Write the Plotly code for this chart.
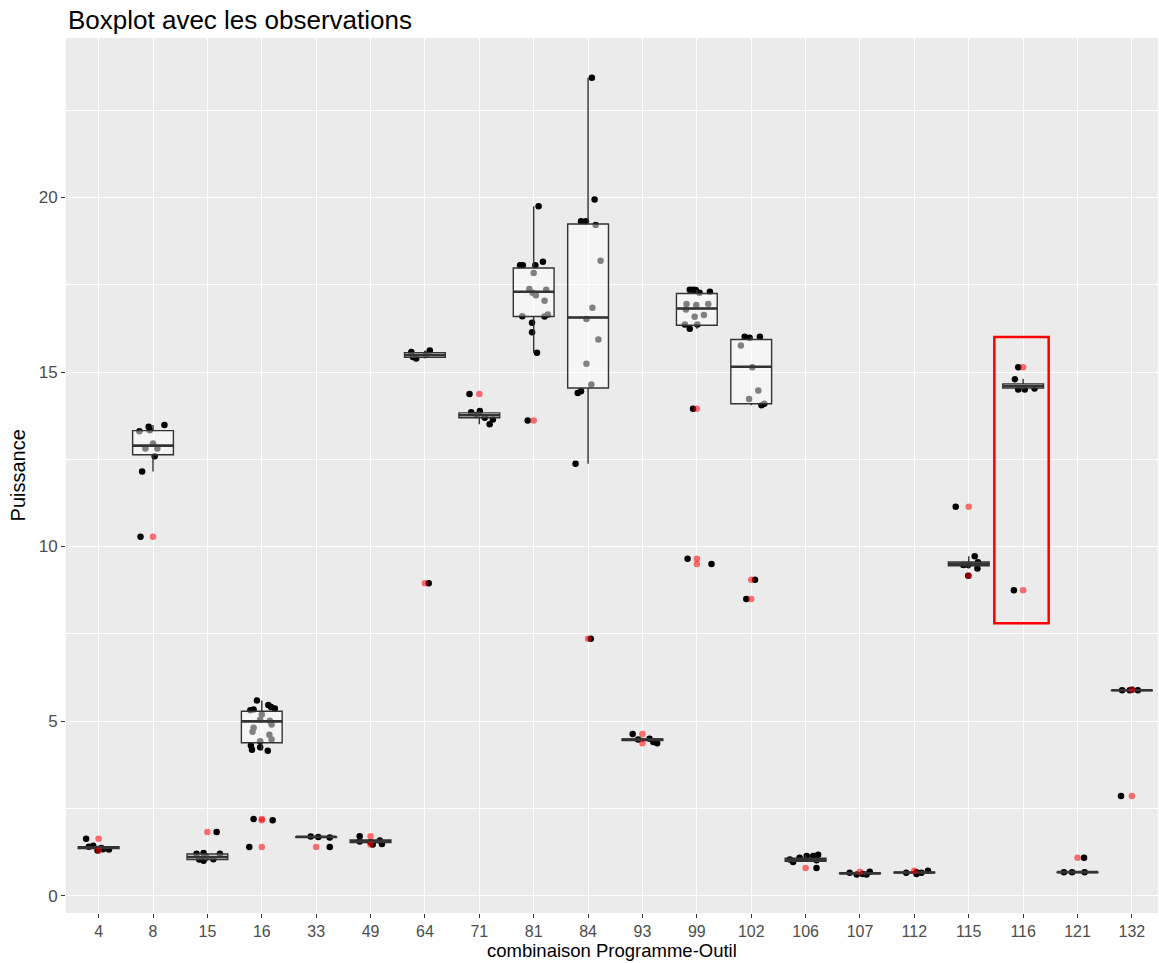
import plotly.graph_objects as go

# Programme-outil combinations (x categories)
categories = ["4", "8", "15", "16", "33", "49", "64", "71", "81", "84",
              "93", "99", "102", "106", "107", "112", "115", "116", "121", "132"]

# Observed power per combination
obs_values = [
    [1.63, 1.40, 1.43, 1.29, 1.33, 1.32, 1.36],
    [13.43, 13.48, 13.30, 13.33, 12.95, 12.81, 12.81, 12.59, 12.15, 10.28],
    [1.82, 1.20, 1.22, 1.20, 1.00, 1.04, 1.10, 1.03],
    [5.59, 5.31, 5.33, 5.46, 5.40, 5.36, 5.19, 5.01, 4.81, 4.69, 4.90, 4.61,
     4.42, 4.47, 5.04, 4.30, 4.18, 4.25, 4.15, 2.19, 2.16, 1.39],
    [1.69, 1.66, 1.68, 1.39],
    [1.70, 1.46, 1.48, 1.58, 1.55, 1.53],
    [15.57, 15.62, 15.43, 15.39, 15.50, 8.95],
    [14.37, 13.85, 13.88, 13.69, 13.64, 13.50, 13.77],
    [19.75, 18.06, 18.06, 18.06, 18.16, 17.84, 17.38, 17.27, 17.20, 17.04,
     17.36, 16.60, 16.59, 16.65, 16.41, 16.14, 15.55, 13.61],
    [23.43, 19.94, 19.32, 19.32, 19.21, 18.19, 16.84, 16.52, 15.93, 15.24,
     14.64, 14.40, 14.45, 12.37, 7.36],
    [4.63, 4.49, 4.36, 4.40, 4.47],
    [17.36, 17.35, 17.36, 17.30, 17.27, 16.95, 16.79, 16.92, 16.95, 16.58,
     16.63, 16.36, 16.36, 16.24, 13.95, 9.65, 9.50],
    [16.01, 15.98, 16.01, 15.76, 15.14, 14.47, 14.23, 14.05, 14.09, 9.05, 8.50],
    [1.17, 1.13, 1.13, 0.96, 1.03, 1.08, 1.01, 0.79],
    [0.65, 0.60, 0.60, 0.68, 0.62],
    [0.65, 0.62, 0.65, 0.71, 0.67],
    [11.14, 9.72, 9.37, 9.47, 9.47, 9.16, 9.55],
    [14.79, 15.14, 14.50, 14.50, 14.53, 8.75],
    [0.67, 0.67, 0.67, 1.08],
    [5.88, 5.88, 5.88, 5.90, 2.85],
]

# Horizontal jitter of each observation (category units)
obs_jitter = [
    [-0.23, -0.18, -0.10, -0.02, 0.08, 0.19, 0.05],
    [-0.08, 0.21, -0.25, -0.06, 0.00, -0.14, 0.08, 0.03, -0.20, -0.23],
    [0.17, -0.20, -0.07, 0.23, -0.07, 0.11, -0.02, -0.15],
    [-0.09, -0.21, -0.15, 0.12, 0.17, 0.24, 0.00, 0.15, -0.15, -0.17, 0.18, 0.14,
     -0.03, 0.18, -0.03, -0.20, -0.18, -0.03, 0.11, -0.15, 0.20, -0.23],
    [-0.10, 0.25, 0.04, 0.25],
    [-0.20, 0.04, 0.21, 0.17, -0.20, 0.00],
    [-0.25, 0.09, -0.22, -0.16, 0.02, 0.07],
    [-0.18, -0.15, 0.01, 0.10, 0.25, 0.19, -0.05],
    [0.09, -0.20, -0.25, 0.03, 0.17, 0.00, -0.08, -0.02, 0.04, 0.20,
     0.23, -0.21, 0.20, 0.26, -0.03, -0.03, 0.06, -0.11],
    [0.07, 0.12, -0.13, -0.04, 0.14, 0.23, 0.08, -0.03, 0.19, -0.03,
     0.06, -0.19, -0.13, -0.23, 0.05],
    [-0.18, 0.13, 0.27, 0.20, -0.08],
    [-0.07, -0.02, -0.13, 0.24, 0.05, -0.19, -0.20, -0.01, 0.21, -0.04,
     0.13, -0.22, 0.01, -0.13, -0.07, -0.17, 0.27],
    [-0.12, -0.03, 0.16, -0.19, 0.02, 0.13, -0.04, 0.19, 0.24, 0.07, -0.09],
    [0.23, 0.14, 0.02, -0.23, -0.29, -0.11, 0.20, 0.20],
    [-0.19, -0.06, 0.12, 0.18, 0.05],
    [-0.15, 0.04, 0.13, 0.25, 0.04],
    [-0.24, 0.11, 0.16, -0.10, -0.01, -0.01, 0.17],
    [-0.15, -0.09, -0.09, 0.03, 0.21, -0.17],
    [-0.25, -0.10, 0.13, 0.12],
    [-0.18, -0.04, 0.11, 0.00, -0.20],
]

# Box statistics per combination
box_q1 = [1.35, 12.63, 1.03, 4.38, 1.67, 1.52, 15.42, 13.69, 16.59, 14.54,
          4.44, 16.34, 14.09, 0.98, 0.62, 0.65, 9.45, 14.54, 0.66, 5.87]
box_median = [1.37, 12.89, 1.10, 4.99, 1.68, 1.55, 15.48, 13.76, 17.30, 16.56,
              4.47, 16.82, 15.15, 1.03, 0.64, 0.66, 9.51, 14.60, 0.67, 5.88]
box_q3 = [1.40, 13.32, 1.19, 5.28, 1.68, 1.59, 15.55, 13.83, 17.98, 19.24,
          4.49, 17.25, 15.93, 1.07, 0.65, 0.67, 9.56, 14.66, 0.67, 5.88]
box_low = [1.32, 12.15, 1.00, 4.15, 1.66, 1.48, 15.39, 13.50, 15.55, 12.37,
           4.40, 16.24, 14.05, 0.96, 0.60, 0.62, 9.37, 14.50, 0.66, 5.86]
box_high = [1.43, 13.48, 1.22, 5.59, 1.69, 1.60, 15.62, 13.88, 19.75, 23.43,
            4.52, 17.36, 16.01, 1.17, 0.66, 0.67, 9.72, 14.81, 0.68, 5.89]

# Values flagged as outliers
outliers = [
    [1.63, 1.29], [10.28], [1.82], [2.19, 2.16, 1.39], [1.39], [1.70, 1.46],
    [8.95], [14.37], [13.61], [7.36], [4.63, 4.36], [13.95, 9.65, 9.50],
    [9.05, 8.50], [0.79], [0.68], [0.71], [11.14, 9.16], [15.14, 8.75],
    [1.08], [5.90, 2.85],
]

# Highlighted combination and its value span
highlight_category = "116"
highlight_low, highlight_high = 7.8, 16.0

BOX_WIDTH = 0.75
FONT = "Liberation Sans, Arial, sans-serif"

pos = list(range(len(categories)))

jx, jy = [], []
for i, (vals, offs) in enumerate(zip(obs_values, obs_jitter)):
    for v, d in zip(vals, offs):
        jx.append(i + d)
        jy.append(v)

ox, oy = [], []
for i, vals in enumerate(outliers):
    for v in vals:
        ox.append(i)
        oy.append(v)

mx, my = [], []
for i, m in enumerate(box_median):
    mx += [i - BOX_WIDTH / 2, i + BOX_WIDTH / 2, None]
    my += [m, m, None]

fig = go.Figure()

# jittered observations (underneath the boxes)
fig.add_trace(go.Scatter(
    x=jx, y=jy, mode="markers", xaxis="x", yaxis="y",
    marker=dict(color="black", size=6.5, line=dict(width=0)),
    hoverinfo="skip", showlegend=False,
))

# semi-transparent boxes drawn on top of the observations
fig.add_trace(go.Box(
    x=pos, q1=box_q1, median=box_median, q3=box_q3,
    lowerfence=box_low, upperfence=box_high,
    xaxis="x2", yaxis="y2", width=BOX_WIDTH, whiskerwidth=0,
    boxpoints=False, fillcolor="rgba(255,255,255,0.5)",
    line=dict(color="#333333", width=1.4), showlegend=False,
))

# thicker median bars
fig.add_trace(go.Scatter(
    x=mx, y=my, mode="lines", xaxis="x2", yaxis="y2",
    line=dict(color="#333333", width=2.6), hoverinfo="skip", showlegend=False,
))

# outliers in translucent red
fig.add_trace(go.Scatter(
    x=ox, y=oy, mode="markers", xaxis="x2", yaxis="y2",
    marker=dict(color="rgba(255,0,0,0.55)", size=6.5, line=dict(width=0)),
    hoverinfo="skip", showlegend=False,
))

hi = categories.index(highlight_category)
fig.add_shape(type="rect", xref="x", yref="y",
              x0=hi - 0.53, x1=hi + 0.47, y0=highlight_low, y1=highlight_high,
              line=dict(color="#FF0000", width=2.5), fillcolor="rgba(0,0,0,0)",
              layer="above")

xrange = [-0.6, 19.48]
yrange = [-0.5, 24.57]

fig.update_layout(
    width=1159, height=963,
    margin=dict(l=66, r=1, t=38, b=50),
    paper_bgcolor="white", plot_bgcolor="#EBEBEB",
    font=dict(family=FONT, color="#4D4D4D"),
    xaxis=dict(
        range=xrange, tickmode="array", tickvals=pos, ticktext=categories,
        showgrid=True, gridcolor="white", gridwidth=1.3, zeroline=False,
        ticks="outside", ticklen=4, tickwidth=1.1, tickcolor="#333333",
        tickfont=dict(size=16, color="#4D4D4D", family=FONT),
        showline=False, fixedrange=True,
    ),
    yaxis=dict(
        range=yrange, tickmode="array", tickvals=[0, 5, 10, 15, 20],
        showgrid=True, gridcolor="white", gridwidth=1.3, zeroline=False,
        minor=dict(tickmode="array", tickvals=[2.5, 7.5, 12.5, 17.5, 22.5],
                   showgrid=True, gridcolor="white", gridwidth=0.6, ticks=""),
        ticks="outside", ticklen=4, tickwidth=1.1, tickcolor="#333333",
        tickfont=dict(size=17, color="#4D4D4D", family=FONT),
        showline=False, fixedrange=True,
    ),
    xaxis2=dict(range=xrange, overlaying="x", visible=False, showgrid=False,
                zeroline=False, fixedrange=True),
    yaxis2=dict(range=yrange, overlaying="y", visible=False, showgrid=False,
                zeroline=False, fixedrange=True),
    showlegend=False,
    annotations=[
        dict(text="Boxplot avec les observations", xref="paper", yref="paper",
             x=0, y=1.0205, xanchor="left", yanchor="middle", showarrow=False,
             font=dict(size=26, color="black", family=FONT)),
        dict(text="combinaison Programme-Outil", xref="paper", yref="paper",
             x=0.5, y=-0.0429, xanchor="center", yanchor="middle", showarrow=False,
             font=dict(size=18.5, color="black", family=FONT)),
        dict(text="Puissance", xref="paper", yref="paper",
             x=-0.044, y=0.5, xanchor="center", yanchor="middle", showarrow=False,
             textangle=-90, font=dict(size=20, color="black", family=FONT)),
    ],
)

fig.write_html("out.html")
